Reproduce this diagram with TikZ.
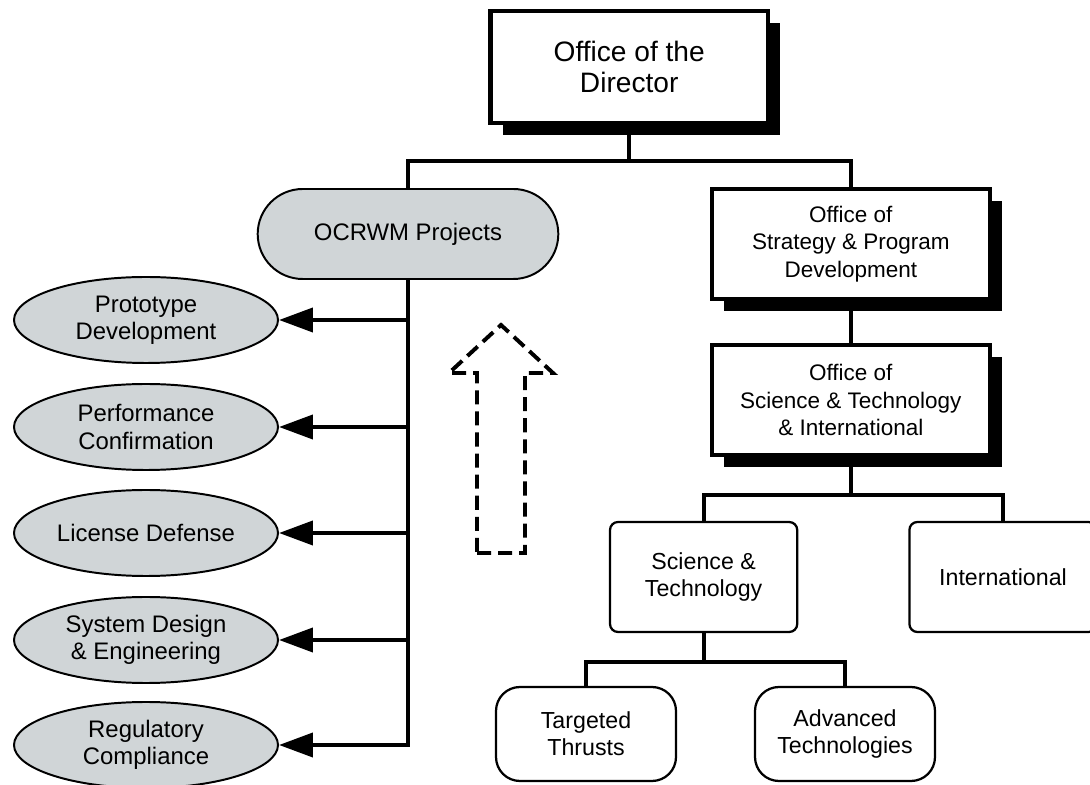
\documentclass[tikz,border=0pt]{standalone}
\usepackage{fontspec}
\setmainfont{Liberation Sans}
\usetikzlibrary{arrows.meta,calc,positioning,shadows,shapes.geometric,shapes.misc}

\definecolor{unitgray}{RGB}{208,213,215}

\begin{document}
\begin{tikzpicture}[
  >=Latex,
  office/.style={
    draw=black,
    fill=white,
    line width=3pt,
    minimum width=6.95cm,
    minimum height=2.75cm,
    align=center,
    font=\fontsize{16pt}{19.5pt}\selectfont,
    drop shadow={shadow xshift=0.3cm,shadow yshift=-0.3cm,fill=black,opacity=1}
  },
  director/.style={
    office,
    minimum width=6.93cm,
    minimum height=2.8cm,
    font=\fontsize{20pt}{22pt}\selectfont
  },
  project/.style={
    draw=black,
    fill=unitgray,
    line width=1.4pt,
    align=center,
    font=\fontsize{17pt}{19.5pt}\selectfont
  },
  task/.style={
    project,
    ellipse,
    inner sep=0pt,
    minimum width=6.6cm,
    minimum height=2.15cm
  },
  unit/.style={
    draw=black,
    fill=white,
    line width=1.6pt,
    rounded corners=0.2cm,
    minimum width=4.68cm,
    minimum height=2.75cm,
    align=center,
    font=\fontsize{16.5pt}{19.5pt}\selectfont
  },
  subunit/.style={
    unit,
    rounded corners=0.6cm,
    minimum width=4.5cm,
    minimum height=2.35cm
  },
  link/.style={
    line width=2.8pt
  },
  feed/.style={
    link,
    -{Triangle[length=8.5mm,width=6mm]}
  },
  hint/.style={
    line width=2.8pt,
    dash pattern=on 10pt off 5pt,
    line join=miter
  }
]

\useasboundingbox (0,0) rectangle (27.25,19.6);
\clip (0,0) rectangle (27.25,19.6);

% Top of the chart
\node[director] (director) at (15.73,17.925)
  {Office of the\\Director};

\node[project,rounded rectangle,minimum width=7.75cm,minimum height=2.25cm]
  (ocrwm) at (10.2,13.75) {OCRWM Projects};

\node[office] (strategy) at (21.27,13.5)
  {Office of\\Strategy \& Program\\Development};

\node[office] (sti) at (21.27,9.6)
  {Office of\\Science \& Technology\\\& International};

% Project areas
\node[task] (proto) at (3.65,11.6)
  {Prototype\\Development};
\node[task] (perfconf) at (3.65,8.925)
  {Performance\\Confirmation};
\node[task] (license) at (3.65,6.275)
  {License Defense};
\node[task] (sysdesign) at (3.65,3.6)
  {System Design\\\& Engineering};
\node[task] (regcomp) at (3.65,0.975)
  {Regulatory\\Compliance};

% Science & technology branch
\node[unit] (scitech) at (17.59,5.175)
  {Science \&\\Technology};
\node[unit] (intl) at (25.075,5.175)
  {International};

\node[subunit] (thrusts) at (14.65,1.25)
  {Targeted\\Thrusts};
\node[subunit] (advtech) at (21.125,1.25)
  {Advanced\\Technologies};

% Reporting lines
\coordinate (topbus) at ($(director.south)+(0,-0.9)$);
\draw[link] (director.south) -- (topbus);
\draw[link] (ocrwm.north) |- (topbus) -| (strategy.north);

\draw[link] (strategy.south) -- (sti.north);

\coordinate (midbus) at ($(sti.south)+(0,-0.95)$);
\draw[link] (sti.south) -- (midbus);
\draw[link] (scitech.north) |- (midbus) -| (intl.north);

\coordinate (lowbus) at ($(scitech.south)+(0,-0.72)$);
\draw[link] (scitech.south) -- (lowbus);
\draw[link] (thrusts.north) |- (lowbus) -| (advtech.north);

% Project trunk
\draw[feed] (ocrwm.south) |- (regcomp.east);
\draw[feed] (proto.east -| ocrwm.south) -- (proto.east);
\draw[feed] (perfconf.east -| ocrwm.south) -- (perfconf.east);
\draw[feed] (license.east -| ocrwm.south) -- (license.east);
\draw[feed] (sysdesign.east -| ocrwm.south) -- (sysdesign.east);

% Dashed upward arrow
\draw[hint]
  (11.925,5.775) -- (13.125,5.775) -- (13.125,10.275)
  -- (13.825,10.275) -- (12.525,11.475) -- (11.225,10.275)
  -- (11.925,10.275) -- cycle;

\end{tikzpicture}
\end{document}
